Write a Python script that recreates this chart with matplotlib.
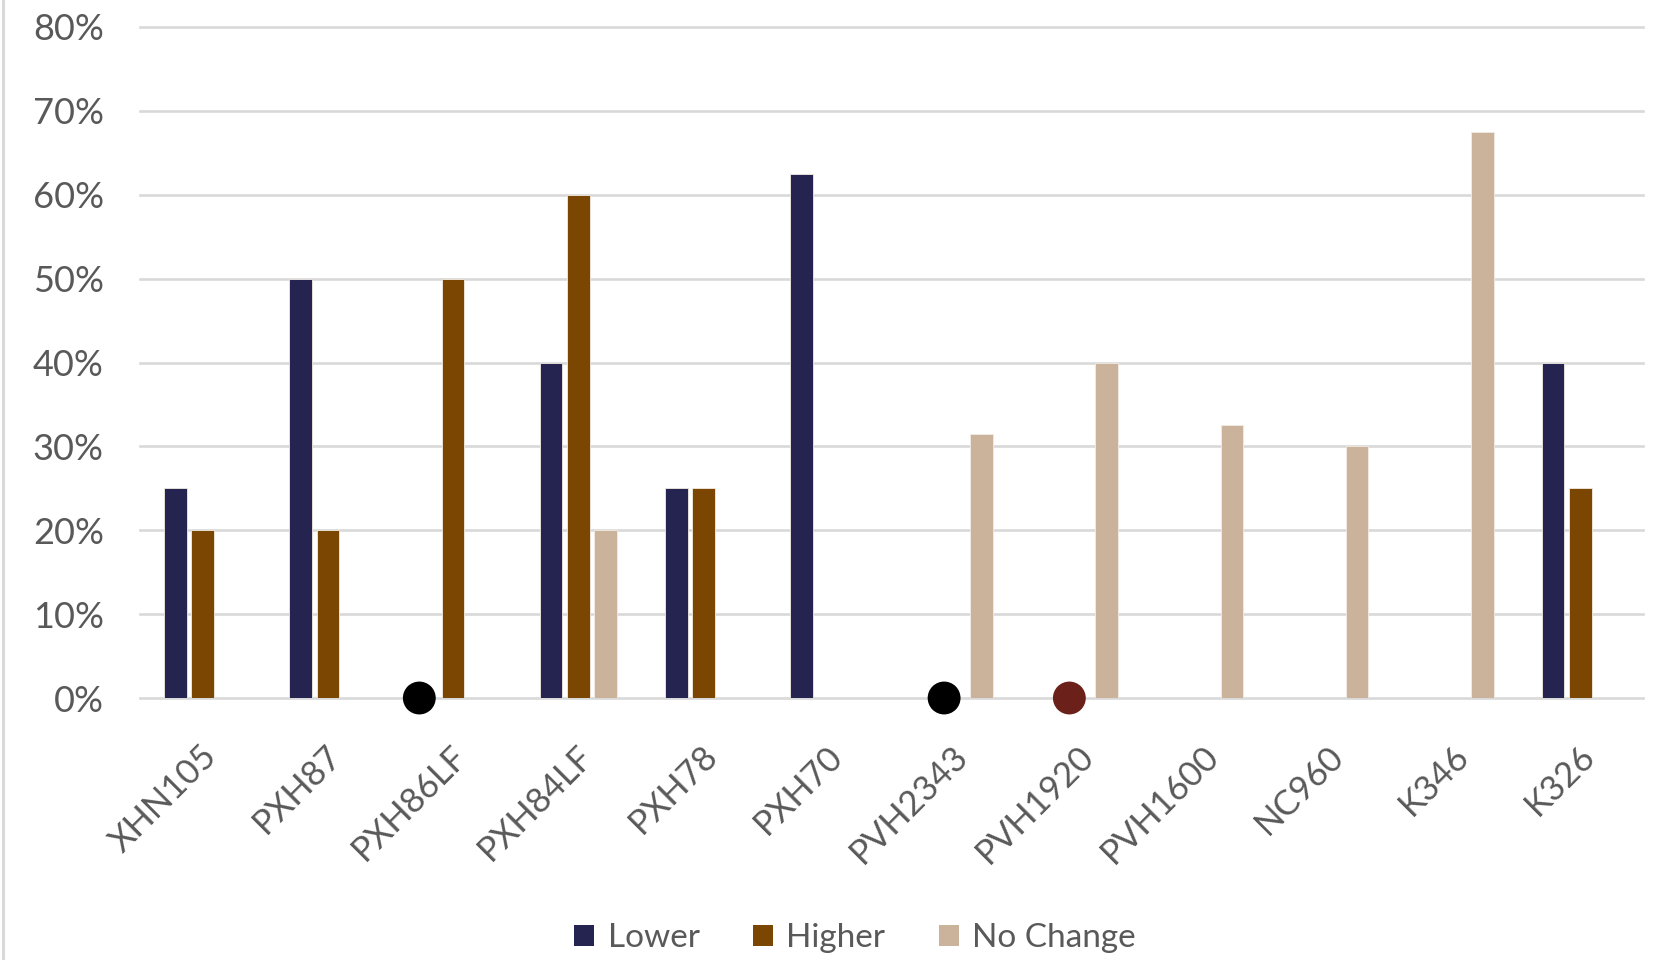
import numpy as np
import matplotlib
matplotlib.use("Agg")
import matplotlib.pyplot as plt
from matplotlib.lines import Line2D
from matplotlib.patches import Patch
from matplotlib.transforms import ScaledTranslation

plt.rcParams['font.family'] = ['Lato', 'DejaVu Sans']

# Share of responses per model
models = ['XHN105', 'PXH87', 'PXH86LF', 'PXH84LF', 'PXH78', 'PXH70',
          'PVH2343', 'PVH1920', 'PVH1600', 'NC960', 'K346', 'K326']
lower = [0.25, 0.50, None, 0.40, 0.25, 0.625, None, None, None, None, None, 0.40]
higher = [0.20, 0.20, 0.50, 0.60, 0.25, None, None, None, None, None, None, 0.25]
no_change = [None, None, None, 0.20, None, None, 0.315, 0.40, 0.325, 0.30, 0.675, None]

# Zero-value markers sitting on the baseline
dot_models = ['PXH86LF', 'PVH2343', 'PVH1920']
dot_shift = [-0.27, -0.08, -0.08]
dot_colors = ['#000000', '#000000', '#6B2119']

yticks = [0, 0.1, 0.2, 0.3, 0.4, 0.5, 0.6, 0.7, 0.8]

series = [('Lower', lower, '#25234F'),
          ('Higher', higher, '#7B4502'),
          ('No Change', no_change, '#CBB29A')]

fig = plt.figure(figsize=(16.68, 9.6), dpi=100)
ax = fig.add_axes([140 / 1668, 1 - 698 / 960, 1503 / 1668, 671 / 960])

x = np.arange(len(models))
step = 0.218
width = 0.18
for i, (name, vals, col) in enumerate(series):
    v = np.array([np.nan if a is None else a for a in vals], dtype=float)
    ax.bar(x + (i - 1) * step, v, width, color=col, edgecolor='#f2ece4',
           linewidth=0.6, zorder=3, label=name)

dx = [models.index(m) + s for m, s in zip(dot_models, dot_shift)]
ax.scatter(dx, [0] * len(dx), s=560, c=dot_colors, zorder=5, clip_on=False,
           linewidths=0)

ax.set_xlim(-0.5, len(models) - 0.5)
ax.set_ylim(0, 0.8)
ax.set_yticks(yticks)
ax.set_yticklabels([f'{int(round(t * 100))}%' for t in yticks])
for t in yticks:
    ax.axhline(t, color='#d9d9d9', lw=1.9, zorder=1, clip_on=False)

for s in ax.spines.values():
    s.set_visible(False)
ax.tick_params(axis='both', length=0, labelcolor='#595959')
ax.tick_params(axis='y', pad=26, labelsize=26)

ax.set_xticks(x)
ax.set_xticklabels(models, rotation=45, ha='right', rotation_mode='anchor',
                   va='center')
ax.tick_params(axis='x', pad=38, labelsize=25)
shift = ScaledTranslation(0.09, 0, fig.dpi_scale_trans)
for lab in ax.get_xticklabels():
    lab.set_transform(lab.get_transform() + shift)

# thin frame line on the left edge of the chart area
fig.add_artist(Line2D([3 / 1668, 3 / 1668], [0, 1], color='#d9d9d9', lw=2.2))

handles = [Patch(facecolor=c, edgecolor='none', label=n) for n, _, c in series]
leg = fig.legend(handles=handles, loc='center', bbox_to_anchor=(855 / 1668, 1 - 938 / 960),
                 ncol=3, frameon=False, fontsize=24, handlelength=0.6,
                 handleheight=0.6, handletextpad=0.4, columnspacing=1.6)
for t in leg.get_texts():
    t.set_color('#595959')

fig.savefig('out.png', dpi=100)
